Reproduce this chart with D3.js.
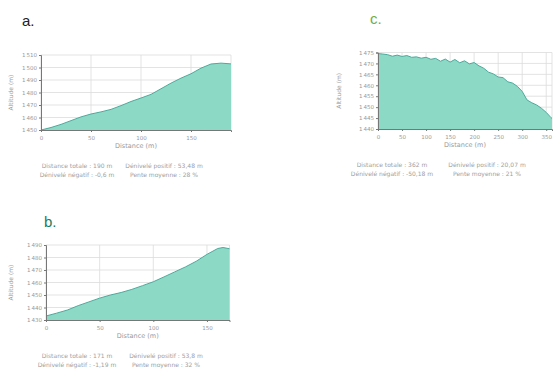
<!DOCTYPE html>
<html><head><meta charset="utf-8">
<script src="https://cdn.jsdelivr.net/npm/d3@7/dist/d3.min.js"></script>
<style>body{margin:0;background:#fff}svg{display:block}</style>
</head><body>
<svg id="c" width="553" height="369"></svg>
<script>
// ---- data ----
const distA = [0,10,20,30,40,50,60,70,80,90,100,110,120,130,140,150,160,170,180,190];
const elevA = [1450,1452,1454.5,1457.5,1460.5,1462.8,1464.5,1466.5,1469.5,1472.8,1475.6,1478.5,1483,1487.5,1491.5,1495,1499.5,1502.8,1503.5,1502.9];
const distB = [0,10,20,30,40,50,60,70,80,90,100,110,120,130,140,150,160,165,171];
const elevB = [1433.2,1435.5,1438,1441.5,1444.5,1447.5,1450,1452,1454.5,1457.5,1460.6,1464.5,1468.5,1472.5,1477,1482.5,1487.2,1488,1487];
const distC = [0,10,20,30,40,50,60,70,80,90,100,110,120,130,140,150,160,170,180,190,200,210,220,230,240,250,260,270,280,290,300,310,320,330,340,350,360,362];
const elevC = [1474.5,1474.3,1474,1473.3,1473.8,1473.2,1473.6,1472.8,1473,1472.4,1472.8,1471.9,1472.3,1471,1472,1470.6,1471.8,1470.3,1471.2,1469.8,1470.4,1468.9,1467.8,1466,1465.2,1463.8,1463.5,1461.6,1461,1459.5,1457.2,1453.3,1452,1451,1449.5,1447.6,1445.2,1444.8];
const xTicksA = [0,50,100,150];
const xTicksB = [0,50,100,150];
const xTicksC = [0,50,100,150,200,250,300,350];
const yTicksA = [1450,1460,1470,1480,1490,1500,1510];
const yTicksB = [1430,1440,1450,1460,1470,1480,1490];
const yTicksC = [1440,1445,1450,1455,1460,1465,1470,1475];
const titles = ["a.","b.","c."];
const footA = ["Distance totale : 190 m","Dénivelé positif : 53,48 m","Dénivelé négatif : -0,6 m","Pente moyenne : 28 %"];
const footB = ["Distance totale : 171 m","Dénivelé positif : 53,8 m","Dénivelé négatif : -1,19 m","Pente moyenne : 32 %"];
const footC = ["Distance totale : 362 m","Dénivelé positif : 20,07 m","Dénivelé négatif : -50,18 m","Pente moyenne : 21 %"];

// ---- drawing ----
const svg = d3.select("#c");
const fmt = v => { const s = String(v); return s.length > 3 ? s.slice(0, s.length-3) + "\u2009" + s.slice(-3) : s; };
const tickFont = "DejaVu Sans, Verdana, sans-serif";

function chart(cfg){
  const x = d3.scaleLinear().domain([0, cfg.dist[cfg.dist.length-1]]).range([cfg.x0, cfg.x1]);
  const y = d3.scaleLinear().domain([cfg.yTicks[0], cfg.yTicks[cfg.yTicks.length-1]]).range([cfg.yb, cfg.yt]);
  const g = svg.append("g");
  g.append("text").attr("x", cfg.tx).attr("y", cfg.ty).text(cfg.title)
    .attr("font-family","Liberation Sans, Arial, sans-serif").attr("font-size",15).attr("fill",cfg.tcol);
  g.selectAll(".gy").data(cfg.yTicks).join("line")
    .attr("x1",cfg.x0).attr("x2",cfg.x1).attr("y1",d=>y(d)).attr("y2",d=>y(d))
    .attr("stroke","#dcdcdc").attr("stroke-width",0.8);
  g.selectAll(".gx").data(cfg.xTicks.concat([x.domain()[1]])).join("line")
    .attr("x1",d=>x(d)).attr("x2",d=>x(d)).attr("y1",cfg.yt).attr("y2",cfg.yb)
    .attr("stroke","#dcdcdc").attr("stroke-width",0.8);
  const pts = cfg.dist.map((d,i)=>[d,cfg.elev[i]]);
  g.append("path").datum(pts)
    .attr("d", d3.area().x(d=>x(d[0])).y0(y.range()[0]).y1(d=>y(d[1])))
    .attr("fill","#8cdac6");
  g.append("path").datum(pts)
    .attr("d", d3.line().x(d=>x(d[0])).y(d=>y(d[1])))
    .attr("fill","none").attr("stroke","#4da99a").attr("stroke-width",1);
  const ax = g.append("g").attr("transform",`translate(0,${cfg.yb})`)
    .call(d3.axisBottom(x).tickValues(cfg.xTicks).tickSize(2).tickPadding(4).tickFormat(d3.format("d")));
  const ay = g.append("g").attr("transform",`translate(${cfg.x0},0)`)
    .call(d3.axisLeft(y).tickValues(cfg.yTicks).tickSize(2).tickPadding(2).tickFormat(fmt));
  [ax, ay].forEach(a => {
    a.select(".domain").attr("stroke","#777").attr("stroke-width",1);
    a.selectAll(".tick line").attr("stroke","#777");
    a.selectAll("text").attr("fill","#999").attr("font-size",5.5).attr("font-family",tickFont);
  });
  g.append("text").attr("x",(cfg.x0+cfg.x1)/2).attr("y",cfg.yb+18).attr("text-anchor","middle")
    .text("Distance (m)").attr("font-size",6.5).attr("fill","#999").attr("font-family",tickFont);
  g.append("text").attr("transform",`translate(${cfg.ax},${(cfg.yt+cfg.yb)/2}) rotate(-90)`).attr("text-anchor","middle")
    .text("Altitude (m)").attr("font-size",6).attr("fill","#999").attr("font-family",tickFont);
  const f = cfg.foot;
  const ff = g.append("g").attr("font-size",6).attr("fill","#a0a0a0").attr("font-family",tickFont).attr("text-anchor","middle");
  ff.append("text").attr("x",cfg.fc1).attr("y",cfg.yb+38).text(f[0]);
  ff.append("text").attr("x",cfg.fc2).attr("y",cfg.yb+38).text(f[1]);
  ff.append("text").attr("x",cfg.fc1).attr("y",cfg.yb+47).text(f[2]);
  ff.append("text").attr("x",cfg.fc2).attr("y",cfg.yb+47).text(f[3]);
}

chart({dist:distA, elev:elevA, xTicks:xTicksA, yTicks:yTicksA, x0:41, x1:231, yt:55, yb:130,
  title:titles[0], tx:22, ty:26, tcol:"#222", ax:13, foot:footA, fc1:77, fc2:164});
chart({dist:distB, elev:elevB, xTicks:xTicksB, yTicks:yTicksB, x0:46, x1:229.5, yt:245, yb:320,
  title:titles[1], tx:44, ty:227, tcol:"#1e7b5e", ax:13, foot:footB, fc1:77, fc2:166});
chart({dist:distC, elev:elevC, xTicks:xTicksC, yTicks:yTicksC, x0:378, x1:552, yt:52.5, yb:129,
  title:titles[2], tx:370, ty:24, tcol:"#6fae3f", ax:341, foot:footC, fc1:392, fc2:487});
</script>
</body></html>
